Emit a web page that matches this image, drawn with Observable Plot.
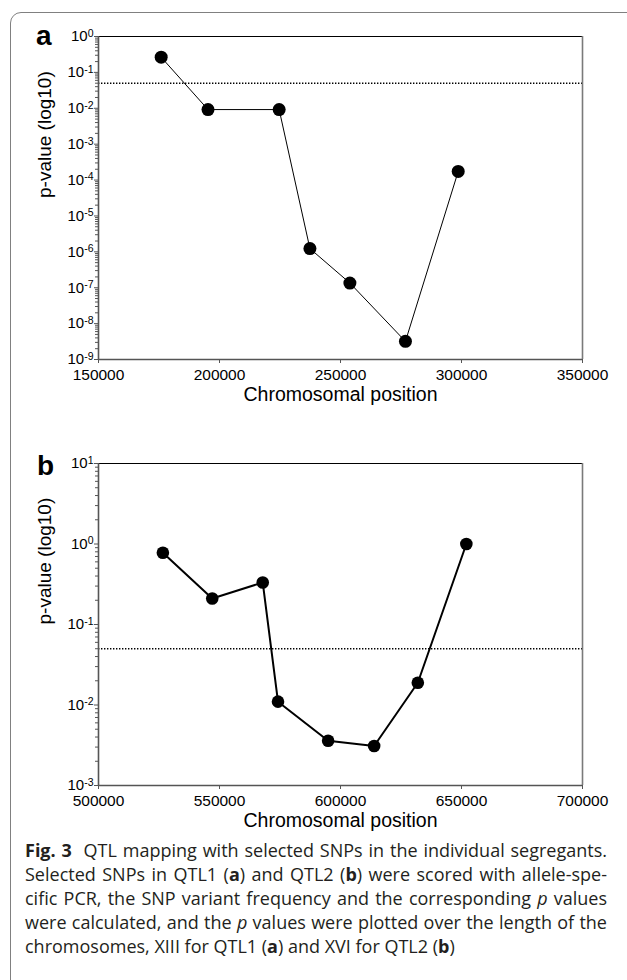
<!DOCTYPE html>
<html><head><meta charset="utf-8">
<script src="https://cdn.jsdelivr.net/npm/d3@7"></script>
<script src="https://cdn.jsdelivr.net/npm/@observablehq/plot@0.6"></script>
<style>
html,body{margin:0;padding:0;background:#fff;width:627px;height:980px;overflow:hidden;position:relative;}
#border{position:absolute;left:10px;top:12px;width:680px;height:1020px;border:1.5px solid #808080;border-radius:11px;box-sizing:border-box;}
.panel{position:absolute;left:0;}
#pa{top:0px}
#pb{top:430px}
.lab{position:absolute;font-family:"Liberation Sans",Arial,sans-serif;font-weight:bold;font-size:28px;line-height:1;}
#caption{position:absolute;left:25px;width:582px;top:838px;font-family:"Open Sans",sans-serif;font-size:16.5px;line-height:24px;color:#231f20;}
.ln{white-space:nowrap;text-align:justify;text-align-last:justify;}
.ln.last, .ln.measure{text-align-last:left;}
</style>
</head><body>
<div id="border"></div>
<div id="pa" class="panel"></div>
<div id="pb" class="panel"></div>
<div class="lab" style="left:36px;top:22px">a</div>
<div class="lab" style="left:37px;top:452px">b</div>
<div id="caption">
<div class="ln"><span class="in"><b>Fig. 3</b>&nbsp; QTL mapping with selected SNPs in the individual segregants.</span></div>
<div class="ln"><span class="in">Selected SNPs in QTL1 (<b>a</b>) and QTL2 (<b>b</b>) were scored with allele-spe-</span></div>
<div class="ln"><span class="in">cific PCR, the SNP variant frequency and the corresponding <i>p</i> values</span></div>
<div class="ln"><span class="in">were calculated, and the <i>p</i> values were plotted over the length of the</span></div>
<div class="ln last"><span class="in">chromosomes, XIII for QTL1 (<b>a</b>) and XVI for QTL2 (<b>b</b>)</span></div>
</div>
<script>
// ---- data ----
const posA = [175900, 195250, 224650, 237370, 253880, 276840, 298640];
const pA   = [0.265, 0.0092, 0.0092, 1.23e-6, 1.35e-7, 3.2e-9, 1.74e-4];
const posB = [526600, 547000, 567860, 574170, 594880, 613900, 631950, 652000];
const pB   = [0.78, 0.21, 0.333, 0.011, 0.0036, 0.0031, 0.0189, 1.0];
const threshold = 0.05;
const xTicksA = [150000, 200000, 250000, 300000, 350000];
const xTicksB = [500000, 550000, 600000, 650000, 700000];
const yExpA = [0, -1, -2, -3, -4, -5, -6, -7, -8, -9];
const yExpB = [1, 0, -1, -2, -3];
const xTitle = "Chromosomal position";
const yTitle = "p-value (log10)";

const FONT = "'Liberation Sans', Arial, Helvetica, sans-serif";

function panel({pos, p, xTicks, yExps, height, marginTop, marginBottom, lineWidth, r}) {
  const data = pos.map((x, i) => ({x, p: p[i]}));
  const xDomain = [xTicks[0], xTicks[xTicks.length - 1]];
  const emin = Math.min(...yExps), emax = Math.max(...yExps);
  const yDomain = [Math.pow(10, emin), Math.pow(10, emax)];
  const majors = yExps.map(e => Math.pow(10, e));
  const minors = [];
  for (let e = emin; e < emax; e++) for (let k = 2; k <= 9; k++) minors.push(k * Math.pow(10, e));
  const svg = Plot.plot({
    width: 627, height, marginLeft: 98, marginRight: 45, marginTop, marginBottom,
    style: {fontFamily: FONT, fontSize: "15px", color: "#000", background: "transparent", overflow: "visible"},
    x: {domain: xDomain},
    y: {type: "log", domain: yDomain},
    marks: [
      Plot.ruleY([threshold], {stroke: "#000", strokeWidth: 1.4, strokeDasharray: "1.4,1.6"}),
      Plot.line(data, {x: "x", y: "p", stroke: "#000", strokeWidth: lineWidth}),
      Plot.dot(data, {x: "x", y: "p", r, fill: "#000", stroke: "none"}),
      Plot.ruleY([yDomain[1]], {stroke: "#000", strokeWidth: 1}),
      Plot.ruleX([xDomain[1]], {stroke: "#7a7a7a", strokeWidth: 1.6}),
      Plot.ruleX([xDomain[0]], {stroke: "#555", strokeWidth: 1.6}),
      Plot.ruleY([yDomain[0]], {stroke: "#555", strokeWidth: 1.6}),
      Plot.axisY({ticks: minors, tickSize: 3, tickFormat: () => "", stroke: "#555", label: null}),
      Plot.axisY({ticks: majors, tickSize: 4, tickPadding: 1, stroke: "#555", fontSize: 15,
        tickFormat: d => "10^" + Math.round(Math.log10(d)), label: null}),
      Plot.axisX({ticks: xTicks, tickSize: 4, tickPadding: 5, stroke: "#555", fontSize: 15.5,
        tickFormat: d => String(d), label: null}),
      Plot.text([xTitle], {frameAnchor: "bottom", dy: 41, fontSize: 19.5, fill: "#000"}),
      Plot.text([yTitle], {frameAnchor: "left", dx: -54, rotate: -90, fontSize: 19, fill: "#000"})
    ]
  });
  // superscript exponents on the log tick labels
  svg.querySelectorAll("text").forEach(t => {
    const s = t.textContent;
    const m = /^10\^(-?\d+)$/.exec(s);
    if (m) {
      t.textContent = "";
      const ns = "http://www.w3.org/2000/svg";
      const a = document.createElementNS(ns, "tspan"); a.textContent = "10";
      const b = document.createElementNS(ns, "tspan");
      b.setAttribute("dy", "-0.42em"); b.setAttribute("font-size", "0.7em");
      b.textContent = m[1];
      t.appendChild(a); t.appendChild(b);
    }
  });
  return svg;
}

document.getElementById("pa").appendChild(panel({
  pos: posA, p: pA, xTicks: xTicksA, yExps: yExpA,
  height: 420, marginTop: 36, marginBottom: 61, lineWidth: 1, r: 6.5
}));
document.getElementById("pb").appendChild(panel({
  pos: posB, p: pB, xTicks: xTicksB, yExps: yExpB,
  height: 420, marginTop: 33, marginBottom: 65, lineWidth: 2, r: 6.3
}));

// fit caption font so justified lines keep near-natural word spacing
(function fitCaption() {
  const cap = document.getElementById("caption");
  const lines = [...cap.querySelectorAll(".ln")];
  lines.forEach(l => l.classList.add("measure"));
  const base = 16.5;
  cap.style.fontSize = base + "px";
  let maxW = 0;
  lines.slice(0, 4).forEach(l => { maxW = Math.max(maxW, l.querySelector(".in").getBoundingClientRect().width); });
  const size = Math.min(18, base * 578 / maxW);
  cap.style.fontSize = size.toFixed(2) + "px";
  lines.forEach(l => l.classList.remove("measure"));
})();
</script>
</body></html>
